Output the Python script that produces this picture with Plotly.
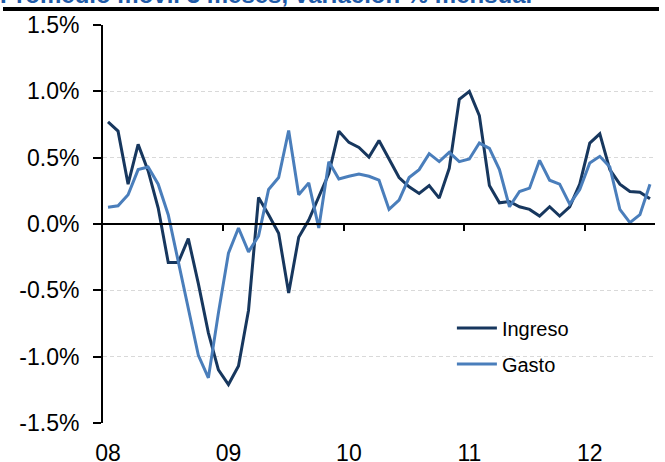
import plotly.graph_objects as go

# Monthly data, Jan 2008 .. Jul 2012 (3-month moving average, % m/m)
months = list(range(55))
ingreso = [0.77, 0.70, 0.30, 0.60, 0.40, 0.12, -0.29, -0.29, -0.11, -0.45,
           -0.82, -1.10, -1.21, -1.07, -0.65, 0.20, 0.07, -0.07, -0.52, -0.10,
           0.03, 0.21, 0.38, 0.70, 0.615, 0.577, 0.504, 0.63, 0.49, 0.35,
           0.28, 0.23, 0.29, 0.195, 0.42, 0.94, 1.00, 0.816, 0.29, 0.16,
           0.17, 0.13, 0.11, 0.06, 0.13, 0.06, 0.13, 0.30, 0.61, 0.68,
           0.41, 0.30, 0.245, 0.24, 0.19]
gasto = [0.127, 0.137, 0.22, 0.41, 0.43, 0.30, 0.07, -0.28, -0.62, -0.99,
         -1.16, -0.67, -0.22, -0.03, -0.21, -0.09, 0.26, 0.35, 0.705, 0.22,
         0.31, -0.03, 0.47, 0.34, 0.36, 0.377, 0.36, 0.33, 0.11, 0.18,
         0.35, 0.41, 0.53, 0.47, 0.54, 0.47, 0.49, 0.61, 0.57, 0.41,
         0.13, 0.245, 0.27, 0.48, 0.33, 0.30, 0.15, 0.26, 0.46, 0.51,
         0.43, 0.11, 0.01, 0.07, 0.30]

year_label_pos = [0, 12, 24, 36, 48]
year_labels = ["08", "09", "10", "11", "12"]
year_boundaries = [11.5, 23.5, 35.5, 47.5]
y_ticks = [-1.5, -1.0, -0.5, 0.0, 0.5, 1.0, 1.5]
y_labels = ["-1.5%", "-1.0%", "-0.5%", "0.0%", "0.5%", "1.0%", "1.5%"]

title_text = "Promedio móvil 3 meses, variación % mensual"

FONT = "Liberation Sans, Arial, sans-serif"

fig = go.Figure()
fig.add_trace(go.Scatter(x=months, y=ingreso, mode="lines", name="Ingreso",
                         line=dict(color="#17375E", width=3), legend="legend"))
fig.add_trace(go.Scatter(x=months, y=gasto, mode="lines", name="Gasto",
                         line=dict(color="#4A7EBB", width=3), legend="legend2"))
# helper traces so the auxiliary axes (zero-line ticks, title rule) are drawn
fig.add_trace(go.Scatter(x=[None], y=[None], xaxis="x2", showlegend=False,
                         hoverinfo="skip"))
fig.add_trace(go.Scatter(x=[None], y=[None], xaxis="x3", yaxis="y3",
                         showlegend=False, hoverinfo="skip"))

xr = [-0.5, 54.5]
xdom = [0.15244, 0.99390]
ydom = [0.0, 0.94090]
fig.update_layout(
    width=665, height=462,
    margin=dict(l=3, r=6, t=0, b=39, autoexpand=False),
    paper_bgcolor="white", plot_bgcolor="rgba(0,0,0,0)",
    font=dict(family=FONT, color="#000000"),
    showlegend=True,
    xaxis=dict(domain=xdom, range=xr, tickmode="array", tickvals=year_label_pos,
               ticktext=year_labels, showline=False, showgrid=False,
               zeroline=False, ticks="", tickfont=dict(size=23),
               ticklabelstandoff=14, fixedrange=True, automargin=False),
    xaxis2=dict(domain=xdom, range=xr, overlaying="x", anchor="free",
                position=0.47045, side="bottom", tickmode="array",
                tickvals=year_boundaries, showticklabels=False, ticks="outside",
                ticklen=6, tickwidth=2, tickcolor="#000000", showline=True,
                linecolor="#000000", linewidth=2, showgrid=False,
                zeroline=False, automargin=False),
    xaxis3=dict(domain=[0.0, 1.0], range=[0, 1], anchor="free",
                position=0.9799, side="bottom", showline=True,
                linecolor="#000000", linewidth=3, showticklabels=False,
                ticks="", showgrid=False, zeroline=False, automargin=False),
    yaxis=dict(domain=ydom, range=[-1.5, 1.5], tickmode="array",
               tickvals=y_ticks, ticktext=y_labels, showline=True,
               linecolor="#000000", linewidth=2, ticks="outside", ticklen=8,
               tickwidth=2, tickcolor="#000000", showgrid=True,
               gridcolor="#D9D9D9", gridwidth=1, griddash="4px,3px",
               zeroline=False, tickfont=dict(size=23), ticklabelstandoff=9,
               automargin=False),
    yaxis3=dict(domain=[0.0, 1.0], anchor="x3", range=[0, 1], visible=False,
                showgrid=False, zeroline=False),
    legend=dict(x=0.6843, y=0.2248, xanchor="left", yanchor="middle",
                bgcolor="rgba(0,0,0,0)", font=dict(size=20), itemwidth=40),
    legend2=dict(x=0.6843, y=0.1392, xanchor="left", yanchor="middle",
                 bgcolor="rgba(0,0,0,0)", font=dict(size=20), itemwidth=40),
    annotations=[
        dict(text="<b>" + title_text + "</b>", xref="paper", yref="paper",
             x=-0.0075, y=0.9775, xanchor="left", yanchor="bottom",
             showarrow=False, font=dict(size=24, color="#1F5BA8", family=FONT)),
    ],
)
# black rule under the cropped title (same place as the xaxis3 line)
fig.add_shape(type="line", xref="paper", yref="paper", x0=0.0, x1=1.0,
              y0=0.9799, y1=0.9799, layer="above",
              line=dict(color="#000000", width=3))

fig.write_html("out.html", config={"displayModeBar": False},
               post_script="document.body.style.margin='0';document.body.style.padding='0';")
